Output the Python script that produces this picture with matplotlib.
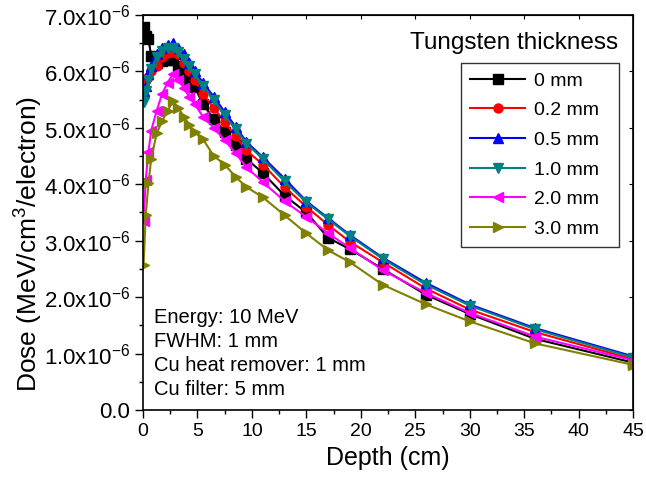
import matplotlib
matplotlib.use("Agg")
import matplotlib.pyplot as plt
import matplotlib.ticker as mticker

plt.rcParams["font.family"] = ["Liberation Sans", "DejaVu Sans"]
plt.rcParams["mathtext.default"] = "regular"

# depth (cm) and dose in units of 1e-6 MeV/cm^3/electron
depth = [0.05, 0.25, 0.5, 0.75, 1.25, 1.75, 2.25, 2.75, 3.25, 3.75, 4.25, 4.75,
         5.5, 6.5, 7.5, 8.5, 9.5, 11, 13, 15, 17, 19, 22, 26, 30, 36, 45]

dose_0mm = [6.78, 6.62, 6.57, 6.28, 6.15, 6.18, 6.2, 6.2, 6.1, 5.97, 5.85, 5.72,
            5.42, 5.16, 4.93, 4.7, 4.45, 4.2, 3.8, 3.5, 3.05, 2.85, 2.5, 2.04,
            1.7, 1.26, 0.84]
dose_02mm = [5.8, 5.85, 5.9, 6.0, 6.1, 6.25, 6.32, 6.35, 6.3, 6.15, 6.0, 5.85,
             5.6, 5.35, 5.1, 4.85, 4.6, 4.35, 3.95, 3.6, 3.28, 2.98, 2.62, 2.15,
             1.78, 1.38, 0.9]
dose_05mm = [5.65, 5.75, 5.95, 6.1, 6.3, 6.42, 6.47, 6.5, 6.42, 6.3, 6.15, 6.0,
             5.8, 5.55, 5.28, 5.02, 4.75, 4.48, 4.1, 3.7, 3.4, 3.1, 2.7, 2.25,
             1.87, 1.45, 0.95]
dose_10mm = [5.45, 5.65, 5.85, 6.05, 6.25, 6.37, 6.42, 6.42, 6.35, 6.22, 6.1, 5.95,
             5.75, 5.5, 5.22, 4.98, 4.72, 4.45, 4.05, 3.68, 3.38, 3.08, 2.68, 2.22,
             1.85, 1.43, 0.93]
dose_20mm = [3.35, 4.08, 4.58, 4.95, 5.3, 5.6, 5.8, 5.95, 5.85, 5.7, 5.55, 5.42,
             5.2, 5.0, 4.78, 4.55, 4.3, 4.04, 3.7, 3.42, 3.13, 2.87, 2.48, 2.07,
             1.72, 1.3, 0.88]
dose_30mm = [2.57, 3.45, 4.02, 4.45, 4.9, 5.12, 5.3, 5.47, 5.35, 5.2, 5.05, 4.92,
             4.8, 4.5, 4.35, 4.13, 3.95, 3.77, 3.45, 3.13, 2.83, 2.62, 2.22, 1.87,
             1.57, 1.18, 0.8]

labels = ["0 mm", "0.2 mm", "0.5 mm", "1.0 mm", "2.0 mm", "3.0 mm"]
series = [dose_0mm, dose_02mm, dose_05mm, dose_10mm, dose_20mm, dose_30mm]
colors = ["#000000", "#FF0000", "#0000FF", "#008080", "#FF00FF", "#808000"]
markers = ["s", "o", "^", "v", "<", ">"]

fig = plt.figure(figsize=(6.46, 4.91), dpi=100)
ax = fig.add_axes([0.2214, 0.165, 0.7586, 0.8045])

for vals, lab, c, m in zip(series, labels, colors, markers):
    ax.plot(depth, vals, color=c, marker=m, markersize=6.5, linewidth=1.5, label=lab)

ax.set_xlim(0, 45)
ax.set_ylim(0, 7.0)
ax.xaxis.set_major_locator(mticker.MultipleLocator(5))
ax.xaxis.set_minor_locator(mticker.MultipleLocator(2.5))
ax.yaxis.set_major_locator(mticker.MultipleLocator(1.0))
ax.yaxis.set_minor_locator(mticker.MultipleLocator(0.5))


def yfmt(v, pos):
    if abs(v) < 1e-9:
        return "0.0"
    return f"{v:.1f}x10$^{{-6}}$"


ax.yaxis.set_major_formatter(mticker.FuncFormatter(yfmt))
ax.tick_params(which="major", direction="out", length=6, width=1)
ax.tick_params(which="minor", direction="out", length=3, width=1)
ax.tick_params(axis="x", labelsize=14)
ax.tick_params(axis="y", labelsize=16)
for s in ax.spines.values():
    s.set_linewidth(1.2)

# small inward ticks on the top and right frame
ax_top = ax.secondary_xaxis("top")
ax_top.xaxis.set_major_locator(mticker.MultipleLocator(5))
ax_top.tick_params(direction="in", length=3, labeltop=False)
ax_right = ax.secondary_yaxis("right")
ax_right.yaxis.set_major_locator(mticker.MultipleLocator(1.0))
ax_right.tick_params(direction="in", length=3, labelright=False)

ax.set_xlabel("Depth (cm)", fontsize=18)
ax.set_ylabel("Dose (MeV/cm$^3$/electron)", fontsize=19)
ax.yaxis.set_label_coords(-0.2, 0.42)

leg = ax.legend(loc="upper left", bbox_to_anchor=(0.649, 0.5, 0.3224, 0.378),
                mode="expand", fontsize=14, frameon=True, fancybox=False,
                edgecolor="black", handlelength=2.85, labelspacing=0.62,
                borderpad=0.45, handletextpad=0.46, borderaxespad=0)
leg.get_frame().set_linewidth(1.0)
ax.text(0.969, 0.93, "Tungsten thickness", transform=ax.transAxes,
        ha="right", va="center", fontsize=17.5)

ax.text(0.022, 0.258, "Energy: 10 MeV\nFWHM: 1 mm\nCu heat remover: 1 mm\nCu filter: 5 mm",
        transform=ax.transAxes, ha="left", va="top", fontsize=14.5, linespacing=1.33)

fig.savefig("out.png", dpi=100)
